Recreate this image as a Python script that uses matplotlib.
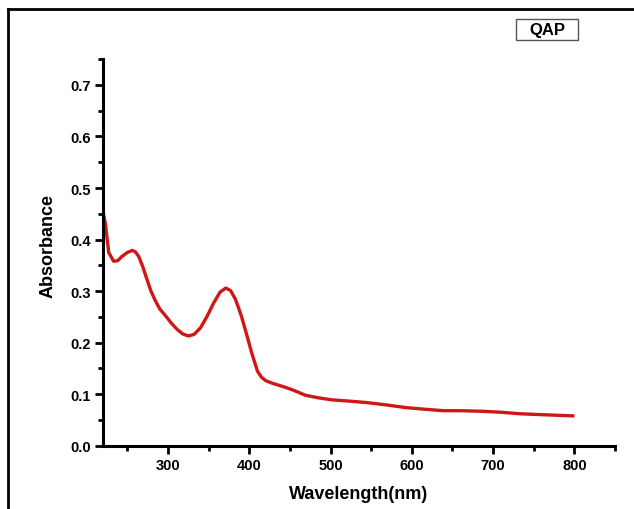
import numpy as np
import matplotlib.pyplot as plt
from matplotlib.lines import Line2D
from matplotlib.patches import Rectangle
from matplotlib.ticker import MultipleLocator

# values
wavelength = [220, 223, 227, 233, 238, 243, 250, 256, 260, 264, 269, 274, 279, 284.5,
              290, 297, 304, 311, 318, 325, 332, 340, 348, 356.5, 364, 371, 377,
              383, 390, 396, 403, 410, 415, 420.5, 429, 439, 447, 455.5, 469,
              485, 502, 520, 543, 565, 593, 615, 639, 660, 685, 710, 734, 765, 798]
absorbance = [0.455, 0.43, 0.375, 0.358, 0.359, 0.367, 0.375, 0.379, 0.376, 0.367,
              0.347, 0.323, 0.300, 0.281, 0.265, 0.252, 0.238, 0.226, 0.217, 0.213,
              0.216, 0.229, 0.251, 0.278, 0.298, 0.306, 0.301, 0.284, 0.253, 0.220,
              0.180, 0.145, 0.133, 0.126, 0.121, 0.116, 0.112, 0.107, 0.098,
              0.093, 0.089, 0.087, 0.084, 0.080, 0.074, 0.071, 0.068, 0.068, 0.067,
              0.065, 0.062, 0.060, 0.058]
sample = "QAP"

plt.rcParams['font.family'] = ['Liberation Sans', 'DejaVu Sans']

fig = plt.figure(figsize=(6.34, 5.10), dpi=100)
ax = fig.add_axes([0.1625, 0.124, 0.8075, 0.758])

ax.plot(wavelength, absorbance, color='#cf1717', lw=2.4, solid_joinstyle='round')

ax.set_xlim(220, 850)
ax.set_ylim(0, 0.75)
ax.xaxis.set_major_locator(MultipleLocator(100))
ax.xaxis.set_minor_locator(MultipleLocator(50))
ax.yaxis.set_major_locator(MultipleLocator(0.1))
ax.yaxis.set_minor_locator(MultipleLocator(0.05))

for side in ['top', 'right']:
    ax.spines[side].set_visible(False)
for side in ['left', 'bottom']:
    ax.spines[side].set_linewidth(2.2)

ax.tick_params(which='major', direction='out', length=6, width=2,
               labelsize=10.5, pad=3)
ax.tick_params(which='minor', direction='out', length=3.5, width=2)
for lab in ax.get_xticklabels() + ax.get_yticklabels():
    lab.set_fontweight('bold')

ax.set_xlabel('Wavelength(nm)', fontsize=13, fontweight='bold', labelpad=9)
ax.set_ylabel('Absorbance', fontsize=13, fontweight='bold')
ax.yaxis.set_label_coords(-0.09, 0.52)

# sample label box
fig.add_artist(Rectangle((516 / 634, 1 - 41 / 510), 62 / 634, 21 / 510,
                         transform=fig.transFigure, fc='white', ec='#555555', lw=1))
fig.text(547 / 634, 1 - 31 / 510, sample, ha='center', va='center',
         fontsize=12, fontweight='bold')

# outer frame (top and left edges visible in the reference)
fig.add_artist(Line2D([0.0126, 1.0], [0.980, 0.980], color='black', lw=2))
fig.add_artist(Line2D([0.0126, 0.0126], [0.0, 0.980], color='black', lw=2))

fig.savefig('out.png', dpi=100)
